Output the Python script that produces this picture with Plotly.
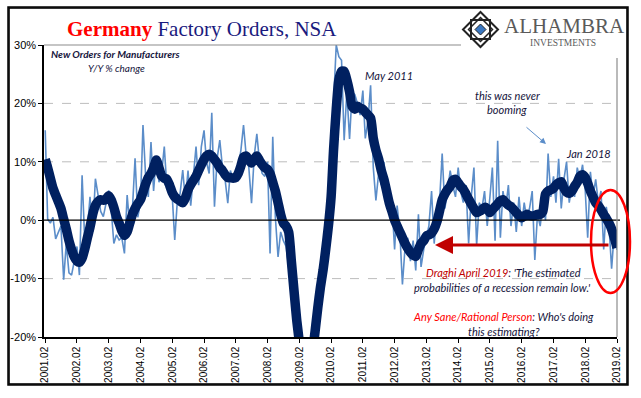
import base64
import plotly.graph_objects as go
import pandas as pd

# ---------------- data ----------------
start_month = "2001-02-01"
tick_labels = [f"{y}.02" for y in range(2001, 2020)]
y_tick_vals = [-20, -10, 0, 10, 20, 30]
y_tick_text = ["-20%", "-10%", "0%", "10%", "20%", "30%"]

# monthly Y/Y % change (thin line)
monthly = [
    15.4, 0.2, -0.5, 0.5, -3.2, -2.0, -1.0, -10.2, -4.0, -9.0, -9.4, -7.0,
    -4.5, -9.4, 7.7, -3.4, -1.5, 4.0, -2.0, 7.1, 4.0, 1.5, 0.6, 3.0,
    5.1, 2.0, -4.0, -2.5, -3.4, -3.0, -5.7, 4.3, -1.0, 2.0, 10.6, 0.5,
    3.0, 16.3, 7.4, 4.0, 13.4, 5.0, 11.0, 6.5, 8.0, 12.6, 5.5, 7.0,
    4.0, -3.4, 3.5, 4.5, 8.6, 3.5, 8.5, 2.5, 7.5, 12.6, 6.0, 12.6,
    15.4, 10.0, 8.0, 18.4, 2.3, 10.5, 13.7, 9.0, 7.0, 2.9, 8.5, 7.0,
    7.0, 9.0, 12.0, 16.3, 11.0, 9.0, 2.9, 11.0, 14.8, 10.0, 8.0, 7.5,
    10.0, -5.7, 14.3, 0.5, -6.3, -2.0, -3.5, -4.5, -8.0, -12.0, -17.0, -22.0,
    -33, -37, -38, -36, -30, -25, -21, -19.5, -10, -6, -1, 4,
    5, 20, 30, 28, 27.4, 13.7, 22, 13.9, 22, 21.5, 20, 18,
    22.2, 14, 17, 23.1, 9, 3.4, 8, 6, 10, 5.5, 1.5, 3.0,
    -5, 2.5, -2, -11, -4.5, -3, -7, -3.5, -8.6, 1, -8, -5,
    -3, -1, 5, -4, 1.5, 3, 11.4, 2, 5, 8.5, 6, 4,
    9, 5, 3, 6, -4, 4, 9, -4.3, 3, 2, 5, -1,
    4, 9, -3.5, 13.6, -3, 5, 2, 6, -1, 3, -2, 4,
    -1, 3, 0, 2, 5, -6.8, 1, -1, 3, 0, 11.4, 4,
    7.5, 3, 10.5, 2, 7, 10, 3, 6, 4, 9, 7, 9.5,
    5, -3, 8.3, 4, 7, 3, 5, -5, 2.3, -1, -8.3, -2,
    -5.1,
]

# smoothed trend (thick line)
smoothed = [
    10.4, 9.0, 7.2, 5.5, 4.3, 3.2, 2.0, 0.2, -1.5, -3.5, -5.0, -6.3,
    -7.0, -7.2, -6.5, -5.0, -3.0, -1.2, 1.0, 2.5, 3.2, 3.5, 3.4, 3.6,
    4.2, 3.5, 2.2, 0.6, -0.5, -1.8, -2.6, -2.0, -0.5, 1.0, 2.0, 2.8,
    3.5, 4.8, 6.2, 7.3, 8.0, 9.0, 10.3, 9.0, 7.6, 7.2, 7.0, 6.0,
    4.7, 4.0, 3.6, 3.3, 3.0, 3.8, 5.2, 6.1, 6.8, 7.5, 8.5, 9.5,
    10.4, 11.0, 11.3, 11.0, 10.4, 9.8, 9.0, 8.5, 7.8, 7.3, 7.3, 7.2,
    7.3, 8.0, 9.3, 10.8, 11.0, 10.3, 9.8, 10.5, 11.0, 10.2, 9.5, 9.0,
    8.7, 8.0, 6.5, 5.0, 3.0, 1.0, -0.5, -1.0, -2.0, -7.0, -12.0, -17.0,
    -21, -27, -31, -33, -29, -23, -19, -15, -11.5, -8.5, -5, -1,
    4, 12, 19, 24, 25.5, 25.5, 24, 22, 19.5, 19, 19.5, 19.2,
    19, 18.5, 18, 17.5, 14, 12, 10.5, 8.5, 7, 5, 3, 1.5,
    0, -1, -2, -3, -4, -4.8, -5.5, -6, -6.2, -5, -4, -3.5,
    -2.7, -2.5, -2.2, -1.5, -0.3, 1.5, 3.5, 4.5, 5.2, 5.8, 6.8, 7.0,
    6.4, 5.8, 5.3, 4.5, 3.6, 2.8, 2.0, 1.3, 1.5, 1.8, 2.2, 2.0,
    1.3, 1.8, 2.3, 2.8, 3.3, 3.5, 3.0, 2.6, 2.3, 1.8, 1.3, 0.8,
    0.4, 0.7, 1.0, 0.8, 0.7, 0.8, 1.0, 1.0, 1.5, 4.5, 5.0, 5.2,
    5.5, 6.0, 6.4, 6.6, 5.5, 4.8, 4.6, 5.0, 5.8, 6.5, 7.5, 7.8,
    7.3, 6.3, 5.0, 4.0, 3.0, 2.5, 1.8, 1.0, 0.3, -0.5, -1.5, -3.0,
    -4.7,
]

dates = pd.date_range(start_month, periods=len(monthly), freq="MS")
tick_dates = pd.date_range(start_month, periods=len(tick_labels), freq="12MS")

# ---------------- layout helpers ----------------
FIG_W, FIG_H = 641, 398
FL, FR, FT, FB = 8, 628, 7, 385          # outer frame in pixels
PL, PR, PT, PB = 44, 617, 45, 337        # plot area in pixels


def px(x):
    return (x - FL) / (FR - FL)


def py(y):
    return (FB - y) / (FB - FT)


TEXT = "#14143C"
fig = go.Figure()
fig.add_trace(go.Scatter(x=dates, y=monthly, mode="lines",
                         line=dict(color="#5B8DC9", width=1.6), hoverinfo="skip"))
fig.add_trace(go.Scatter(x=dates, y=smoothed, mode="lines",
                         line=dict(color="#002060", width=9.5, shape="spline", smoothing=0.6),
                         hoverinfo="skip"))

shapes = []
shapes.append(dict(type="rect", xref="paper", yref="paper", x0=0, x1=1, y0=0, y1=1,
                   line=dict(color="black", width=1.5), fillcolor="rgba(0,0,0,0)"))
for v in [20, 10, -10]:
    shapes.append(dict(type="line", xref="x domain", yref="y", x0=0, x1=1, y0=v, y1=v,
                       line=dict(color="#BDBDBD", width=1, dash="dash"), layer="below"))
shapes.append(dict(type="line", xref="paper", yref="y", x0=px(PL), x1=px(620), y0=0, y1=0,
                   line=dict(color="black", width=1.2)))
shapes.append(dict(type="line", xref="paper", yref="paper", x0=px(PL), x1=px(461),
                   y0=py(PT), y1=py(PT), line=dict(color="#8C8C8C", width=1.2)))
shapes.append(dict(type="line", xref="paper", yref="paper", x0=px(PR), x1=px(PR),
                   y0=py(PB), y1=py(58), line=dict(color="#8C8C8C", width=1.2)))
shapes.append(dict(type="circle", xref="paper", yref="paper", x0=px(591), x1=px(630),
                   y0=py(293), y1=py(190), line=dict(color="#FF0000", width=2.5)))


def diamond(cx, cy, h):
    pts = [(cx, cy - h), (cx + h, cy), (cx, cy + h), (cx - h, cy)]
    return "M " + " L ".join(f"{px(a)},{py(b)}" for a, b in pts) + " Z"


def square(cx, cy, h):
    pts = [(cx - h, cy - h), (cx + h, cy - h), (cx + h, cy + h), (cx - h, cy + h)]
    return "M " + " L ".join(f"{px(a)},{py(b)}" for a, b in pts) + " Z"


cx, cy = 480.5, 29.5
shapes.append(dict(type="path", xref="paper", yref="paper", path=diamond(cx, cy, 17.5),
                   line=dict(color="#222222", width=2), fillcolor="white"))
shapes.append(dict(type="path", xref="paper", yref="paper", path=square(cx, cy, 9.5),
                   line=dict(color="#222222", width=2)))
shapes.append(dict(type="path", xref="paper", yref="paper", path=diamond(cx, cy, 12),
                   line=dict(color="#222222", width=1.5)))
shapes.append(dict(type="path", xref="paper", yref="paper", path=diamond(cx, cy, 5.5),
                   line=dict(color="#222222", width=1), fillcolor="#3A78C2"))

# outer frame as an inline svg image as well
fw, fh = FR - FL, FB - FT
frame_svg = (f'<svg xmlns="http://www.w3.org/2000/svg" width="{fw}" height="{fh}" '
             f'viewBox="0 0 {fw} {fh}"><rect x="1" y="1" width="{fw - 2}" height="{fh - 2}" '
             f'fill="none" stroke="black" stroke-width="1.6"/></svg>')
frame_uri = "data:image/svg+xml;base64," + base64.b64encode(frame_svg.encode()).decode()
images = [dict(source=frame_uri, xref="paper", yref="paper", x=0, y=1, sizex=1, sizey=1,
               xanchor="left", yanchor="top", sizing="stretch", layer="above")]

annotations = []


def note(x, y, text, size=11, color=TEXT, xanchor="center", family="Lato"):
    annotations.append(dict(xref="paper", yref="paper", x=px(x), y=py(y), text=text,
                            showarrow=False, xanchor=xanchor, yanchor="middle",
                            font=dict(family=family, size=size, color=color)))


note(65, 29, "<b><span style='color:#FF0000'>Germany</span></b> Factory Orders, NSA",
     size=21, color="#1A1A7E", xanchor="left", family="Liberation Serif")
note(502, 25.5, "ALHAMBRA", size=21, color="#5A5A5A", xanchor="left", family="Liberation Serif")
note(563, 42.5, "INVESTMENTS", size=9.5, color="#5A5A5A", family="Liberation Serif")
note(49, 54, "<b><i>New Orders for Manufacturers</i></b>", size=10, xanchor="left")
note(116, 68, "<i>Y/Y % change</i>", size=10)
note(389, 75, "<i>May 2011</i>", size=11)
note(507, 95, "<i>this was never</i>", size=11)
note(507, 110, "<i>booming</i>", size=11)
note(588, 153, "<i>Jan 2018</i>", size=11)
note(503, 272, "<i><span style='color:#C00000'>Draghi April 2019</span>: 'The estimated</i>", size=11)
note(502, 287, "<i>probabilities of a recession remain low.'</i>", size=11)
note(503, 316, "<i><span style='color:#FF0000'>Any Sane/Rational Person</span>: Who's doing</i>", size=11)
note(504, 331, "<i>this estimating?</i>", size=11)

annotations.append(dict(xref="paper", yref="paper", x=px(435), y=py(245), ax=175, ay=0,
                        text="", showarrow=True, arrowhead=2, arrowsize=1.2,
                        arrowwidth=3, arrowcolor="#C00000"))
annotations.append(dict(xref="paper", yref="paper", x=px(546), y=py(144), ax=-21, ay=-18,
                        text="", showarrow=True, arrowhead=2, arrowsize=1.2,
                        arrowwidth=1, arrowcolor="#5B8DC9"))

fig.update_layout(
    template="none",
    width=FIG_W, height=FIG_H, autosize=False,
    margin=dict(l=FL, r=FIG_W - FR, t=FT, b=FIG_H - FB, pad=0, autoexpand=False),
    paper_bgcolor="white", plot_bgcolor="rgba(0,0,0,0)",
    showlegend=False,
    shapes=shapes, annotations=annotations, images=images,
    font=dict(family="Liberation Sans", color="black"),
    xaxis=dict(
        domain=[px(PL), px(PR)], automargin=False,
        type="date", range=[pd.Timestamp("2001-01-18"), pd.Timestamp("2019-02-01")],
        tickvals=tick_dates, ticktext=tick_labels, tickangle=-90,
        tickfont=dict(family="Liberation Sans", size=10, color="black"),
        showgrid=False, zeroline=False,
        showline=True, linecolor="black", linewidth=1.5,
        ticks="outside", ticklen=4, tickcolor="black", tickwidth=1,
    ),
    yaxis=dict(
        domain=[py(PB), py(PT)], automargin=False,
        range=[-20, 30], tickvals=y_tick_vals, ticktext=y_tick_text,
        tickfont=dict(family="Liberation Sans", size=11, color="black"),
        showgrid=False, zeroline=False,
        showline=True, linecolor="black", linewidth=1.5,
        ticks="outside", ticklen=4, tickcolor="black", tickwidth=1,
    ),
)

fig.write_html("out.html", config={"displayModeBar": False},
               post_script="document.body.style.margin='0';document.body.style.overflow='hidden';")
